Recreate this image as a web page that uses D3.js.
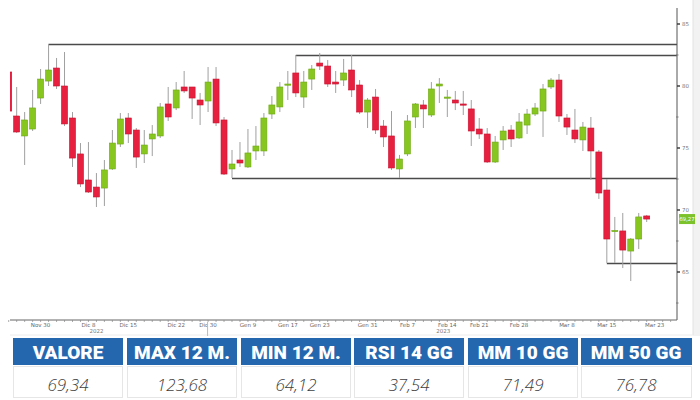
<!DOCTYPE html>
<html>
<head>
<meta charset="utf-8">
<script src="https://cdn.jsdelivr.net/npm/d3@7"></script>
<style>
html, body { margin: 0; padding: 0; background: #fff; }
svg { display: block; }
</style>
</head>
<body>
<script>
// sedute giornaliere (indice 0 = prima candela a sinistra)
var opens  = [81.13,77.58,75.97,76.53,79.03,80.40,81.45,80.00,77.42,74.52,72.42,71.85,71.77,73.31,75.32,77.42,76.45,74.52,75.73,75.97,
              78.55,78.23,79.92,79.92,78.87,78.79,80.56,77.26,73.31,74.03,73.47,74.76,74.76,77.74,78.31,80.08,81.05,79.11,80.56,81.85,
              81.61,80.32,80.48,81.29,80.08,77.90,79.11,76.77,75.97,73.31,74.52,77.50,78.47,77.66,80.00,79.07,78.87,78.55,78.15,76.53,
              76.13,73.87,75.65,76.45,75.81,76.85,77.74,77.98,79.92,80.48,77.42,76.45,75.65,76.61,74.68,71.61,68.27,68.31,66.69,67.66,69.52];
var highs  = [81.29,79.92,77.90,79.68,81.37,83.39,82.26,82.74,77.90,75.40,75.48,72.98,74.03,76.45,77.82,77.82,76.61,76.45,76.85,78.63,
              79.92,80.32,81.21,79.92,79.44,81.53,81.53,77.50,74.84,75.48,76.53,76.77,77.82,79.19,80.32,81.21,82.50,81.21,81.69,82.66,
              82.10,81.21,82.18,82.50,80.48,79.03,79.76,77.26,77.98,74.44,77.66,78.63,78.87,80.32,80.64,79.68,79.60,79.60,78.87,77.42,
              76.61,75.97,76.77,76.85,77.82,78.15,78.63,80.16,80.64,80.97,77.74,78.15,77.10,77.50,74.84,72.50,69.44,69.76,67.74,69.76,69.60];
var lows   = [77.90,76.21,73.63,76.37,78.55,80.00,79.76,76.77,73.47,71.85,71.37,70.24,70.32,73.23,75.08,75.40,73.39,73.79,74.35,75.81,
              77.18,78.06,79.44,77.34,76.85,77.90,76.77,72.82,72.58,73.47,73.39,74.03,74.35,77.34,77.90,78.87,79.11,78.23,79.68,81.29,
              79.92,79.44,80.00,79.11,77.74,76.61,76.13,75.08,73.23,72.58,74.35,76.61,76.61,77.50,78.63,77.50,78.06,77.66,75.16,75.73,
              73.79,73.79,74.84,75.08,75.73,76.13,77.58,75.89,79.76,77.10,76.05,75.40,74.76,72.42,70.89,65.73,65.73,65.32,64.27,66.85,69.03];
var closes = [77.98,76.29,77.26,78.23,80.56,81.29,80.00,76.94,74.19,72.10,71.45,71.05,73.23,75.40,77.34,76.13,74.27,75.24,76.13,78.31,
              77.50,79.68,79.60,79.03,78.47,80.32,77.02,72.90,73.71,73.79,74.60,75.16,77.42,78.47,79.92,80.16,79.44,80.32,81.37,81.61,
              80.16,80.16,81.05,79.68,77.90,78.87,76.45,75.89,73.39,74.11,77.18,78.55,78.15,79.76,80.16,79.11,78.63,78.51,76.37,76.13,
              73.87,75.48,76.37,75.73,77.10,77.74,78.23,79.76,80.48,77.58,76.69,75.73,76.69,74.76,71.37,67.66,68.35,66.77,67.66,69.44,69.27];

var xTickLabels = ["Nov 30","Dic 8","Dic 15","Dic 22","Dic 30","Gen 9","Gen 17","Gen 23","Gen 31","Feb 7","Feb 14","Feb 21","Feb 28","Mar 8","Mar 15","Mar 23"];
var xTickIdx = [4, 10, 15, 21, 25, 30, 35, 39, 45, 50, 55, 59, 64, 70, 75, 81];
var yearLabels = ["2022", "2023"];
var yearIdx = [11, 54.5];
var yTicks = [65, 70, 75, 80, 85];
var yMinor = [62.5, 67.5, 72.5, 77.5, 82.5];

// livelli orizzontali (supporti / resistenze) e candela da cui partono
var levels = [83.39, 82.50, 72.58, 65.73];
var levelFrom = [5, 36, 28, 75];

var statLabels = ["VALORE", "MAX 12 M.", "MIN 12 M.", "RSI 14 GG", "MM 10 GG", "MM 50 GG"];
var statValues = ["69,34", "123,68", "64,12", "37,54", "71,49", "76,78"];

var width = 700, height = 400;
var plotLeft = 10, plotRight = 677, plotTop = 8, plotBottom = 320;
var red = "#e8203f", green = "#86c61f";

var svg = d3.select("body").append("svg")
    .attr("width", width)
    .attr("height", height);

// pannello grafico
svg.append("rect").attr("x", 693).attr("y", 0).attr("width", 7).attr("height", 336).attr("fill", "#f2f2f2");
svg.append("line").attr("x1", 693).attr("x2", 693).attr("y1", 0).attr("y2", 335).attr("stroke", "#e2e2e2");
svg.append("line").attr("x1", 10).attr("x2", 693).attr("y1", 335).attr("y2", 335).attr("stroke", "#ececec");

var x = d3.scaleLinear().domain([0, closes.length - 1]).range([8.7, 646.7]);
var y = d3.scaleLinear().domain([65, 85]).range([272, 24]);

svg.append("defs").append("clipPath").attr("id", "clip")
    .append("rect").attr("x", plotLeft).attr("y", 0)
    .attr("width", plotRight - plotLeft).attr("height", plotBottom);

var data = closes.map(function (c, i) {
    return { i: i, o: opens[i], h: highs[i], l: lows[i], c: c };
});

// livelli
svg.append("g").selectAll("line")
    .data(levels)
    .enter().append("line")
    .attr("x1", function (d, i) { return x(levelFrom[i]); })
    .attr("x2", plotRight)
    .attr("y1", function (d) { return Math.round(y(d)) + 0.5; })
    .attr("y2", function (d) { return Math.round(y(d)) + 0.5; })
    .attr("stroke", "#4a4a4a")
    .attr("stroke-width", 1.3);

var candles = svg.append("g").attr("clip-path", "url(#clip)")
    .selectAll("g").data(data).enter().append("g");

candles.append("line")
    .attr("x1", function (d) { return x(d.i); })
    .attr("x2", function (d) { return x(d.i); })
    .attr("y1", function (d) { return y(d.h); })
    .attr("y2", function (d) { return y(d.l); })
    .attr("stroke", "#a0a0a0")
    .attr("stroke-width", 1);

candles.append("rect")
    .attr("x", function (d) { return x(d.i) - 3; })
    .attr("width", 6)
    .attr("y", function (d) { return y(Math.max(d.o, d.c)); })
    .attr("height", function (d) { return Math.max(1.2, Math.abs(y(d.o) - y(d.c))); })
    .attr("fill", function (d) { return d.c >= d.o ? green : red; })
    .attr("stroke", function (d) { return d.c >= d.o ? "#6fa815" : "#c8102e"; })
    .attr("stroke-width", 0.6);

// asse destro
var ax = svg.append("g");
ax.append("line").attr("x1", plotRight).attr("x2", plotRight)
    .attr("y1", plotTop).attr("y2", plotBottom).attr("stroke", "#555");
ax.selectAll(".maj").data(yTicks).enter().append("line")
    .attr("x1", plotRight).attr("x2", plotRight + 3)
    .attr("y1", function (d) { return y(d); }).attr("y2", function (d) { return y(d); })
    .attr("stroke", "#333").attr("stroke-width", 1.4);
ax.selectAll(".min").data(yMinor).enter().append("line")
    .attr("x1", plotRight - 1).attr("x2", plotRight + 1.5)
    .attr("y1", function (d) { return y(d); }).attr("y2", function (d) { return y(d); })
    .attr("stroke", "#777");
ax.selectAll("text").data(yTicks).enter().append("text")
    .attr("x", plotRight + 5).attr("y", function (d) { return y(d) + 2; })
    .attr("font-family", "DejaVu Sans").attr("font-size", 5.5).attr("fill", "#777")
    .text(function (d) { return d; });

// etichetta ultimo prezzo
var last = closes[closes.length - 1];
svg.append("rect").attr("x", 679).attr("y", y(last) - 5).attr("width", 16).attr("height", 10)
    .attr("fill", "#7cc22a");
svg.append("text").attr("x", 687).attr("y", y(last) + 2)
    .attr("text-anchor", "middle")
    .attr("font-family", "DejaVu Sans").attr("font-size", 5.5).attr("fill", "#fff")
    .text(d3.format(".2f")(last).replace(".", ","));

// asse inferiore
var bx = svg.append("g");
bx.append("line").attr("x1", plotLeft).attr("x2", plotRight)
    .attr("y1", plotBottom).attr("y2", plotBottom).attr("stroke", "#666");
bx.selectAll(".tk").data(d3.range(closes.length + 3)).enter().append("line")
    .attr("x1", function (d) { return x(d); }).attr("x2", function (d) { return x(d); })
    .attr("y1", plotBottom).attr("y2", plotBottom + 2)
    .attr("stroke", "#888").attr("stroke-width", 0.7);
bx.selectAll("text.lab").data(xTickLabels).enter().append("text")
    .attr("x", function (d, i) { return x(xTickIdx[i]); })
    .attr("y", plotBottom + 7)
    .attr("text-anchor", "middle")
    .attr("font-family", "DejaVu Sans").attr("font-size", 5.5).attr("fill", "#666")
    .text(function (d) { return d; });
bx.selectAll("text.yr").data(yearLabels).enter().append("text")
    .attr("x", function (d, i) { return x(yearIdx[i]); })
    .attr("y", plotBottom + 13)
    .attr("text-anchor", "middle")
    .attr("font-family", "DejaVu Sans").attr("font-size", 5.5).attr("fill", "#777")
    .text(function (d) { return d; });
bx.append("line").attr("x1", x(25) - 0.5).attr("x2", x(25) - 0.5)
    .attr("y1", plotBottom + 2).attr("y2", 336).attr("stroke", "#bbb");

// tabella dati
var cellX = [13, 127, 241, 354, 468, 581];
var cellW = 110;
var tb = svg.append("g");
tb.selectAll("rect.h").data(statLabels).enter().append("rect")
    .attr("x", function (d, i) { return cellX[i]; }).attr("y", 338)
    .attr("width", function (d, i) { return i === 5 ? 111 : cellW; }).attr("height", 27)
    .attr("fill", "#2467ae");
tb.selectAll("rect.v").data(statValues).enter().append("rect")
    .attr("x", function (d, i) { return cellX[i] + 0.5; }).attr("y", 366.5)
    .attr("width", function (d, i) { return (i === 5 ? 111 : cellW) - 1; }).attr("height", 31)
    .attr("fill", "#fff").attr("stroke", "#e6e6e6");
tb.selectAll("text.h").data(statLabels).enter().append("text")
    .attr("x", function (d, i) { return cellX[i] + 55; }).attr("y", 358.5)
    .attr("text-anchor", "middle")
    .attr("font-family", "Roboto").attr("font-weight", 900).attr("font-size", 19)
    .attr("fill", "#fff")
    .text(function (d) { return d; });
tb.selectAll("text.v").data(statValues).enter().append("text")
    .attr("x", function (d, i) { return cellX[i] + 55; }).attr("y", 391)
    .attr("text-anchor", "middle")
    .attr("font-family", "Open Sans").attr("font-style", "italic").attr("font-weight", 300)
    .attr("font-size", 17)
    .attr("fill", "#404040")
    .text(function (d) { return d; });
</script>
</body>
</html>
